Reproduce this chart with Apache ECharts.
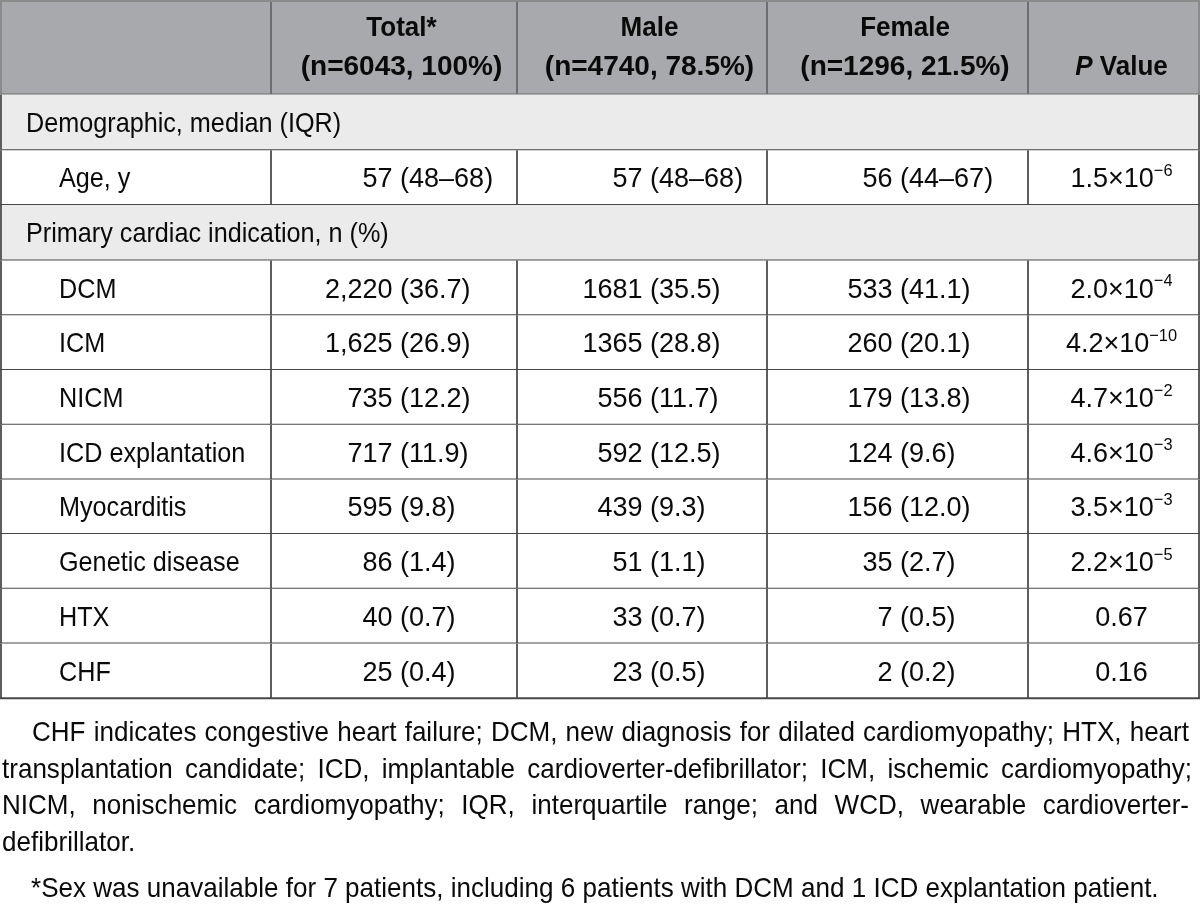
<!DOCTYPE html>
<html>
<head>
<meta charset="utf-8">
<script src="https://cdn.jsdelivr.net/npm/echarts@6/dist/echarts.min.js"></script>
<style>
html,body{margin:0;padding:0;background:#ffffff;}
#chart{width:1200px;height:916px;}
</style>
</head>
<body>
<div id="chart"></div>
<script>
// ---------------- DATA ----------------
const columnTitles = ['Total*', 'Male', 'Female'];
const columnN = [6043, 4740, 1296];
const columnPct = ['100', '78.5', '21.5'];
const pValueTitle = 'Value';
const groupLabels = ['Demographic, median (IQR)', 'Primary cardiac indication, n (%)'];

const ageLabel = 'Age, y';
const ageMedian = [57, 57, 56];
const ageQ1 = [48, 48, 44];
const ageQ3 = [68, 68, 67];
const agePMantissa = 1.5;
const agePExponent = -6;

const categories = ['DCM', 'ICM', 'NICM', 'ICD explantation', 'Myocarditis', 'Genetic disease', 'HTX', 'CHF'];
const totalN   = [2220, 1625, 735, 717, 595, 86, 40, 25];
const totalPct = [36.7, 26.9, 12.2, 11.9, 9.8, 1.4, 0.7, 0.4];
const maleN    = [1681, 1365, 556, 592, 439, 51, 33, 23];
const malePct  = [35.5, 28.8, 11.7, 12.5, 9.3, 1.1, 0.7, 0.5];
const femaleN  = [533, 260, 179, 124, 156, 35, 7, 2];
const femalePct= [41.1, 20.1, 13.8, 9.6, 12.0, 2.7, 0.5, 0.2];
const pMantissa = [2.0, 4.2, 4.7, 4.6, 3.5, 2.2, 0.67, 0.16];
const pExponent = [-4, -10, -2, -3, -3, -5, null, null];

const footnoteJustified = [
  'CHF indicates congestive heart failure; DCM, new diagnosis for dilated cardiomyopathy; HTX, heart',
  'transplantation candidate; ICD, implantable cardioverter-defibrillator; ICM, ischemic cardiomyopathy;',
  'NICM, nonischemic cardiomyopathy; IQR, interquartile range; and WCD, wearable cardioverter-'
];
const footnoteLast = 'defibrillator.';
const footnoteSex = '*Sex was unavailable for 7 patients, including 6 patients with DCM and 1 ICD explantation patient.';

// ---------------- LAYOUT / STYLE ----------------
const W = 1200, H = 916;
const FONT = '"Liberation Sans", Arial, Helvetica, sans-serif';
const FS = 28;
// horizontal condensing to imitate a condensed grotesque
const SX = { label: 0.9, num: 0.965, headTitle: 0.93, headN: 1.0, foot: 0.93 };
const COL_EDGES = [0, 271, 517, 767, 1028, 1200];
const PAREN_X = [400, 650, 900];
const HEAD_CX = [401.5, 649.5, 905, 1121.5];
const P_CX = 1121.5;
const LABEL_X = { group: 26, data: 59 };
const ROW_HEIGHT = { header: 94.5, group: 55.7, data: 54.7 };
const C = {
  headerBg: '#a7a9ac', groupBg: '#ebebeb', text: '#0a0a0a',
  hLine: '#474747', vLine: '#5e5e5e', headLine: '#6e6e70', border: '#8a8a8a'
};

// ---------------- BUILD ROWS ----------------
function fmtThousands(n) { return n.toLocaleString('en-US'); }
function fmtP(m, e) { return e == null ? { m: m.toFixed(2), e: null } : { m: m.toFixed(1), e: e }; }

const rows = [];
rows.push({ type: 'header' });
rows.push({ type: 'group', label: groupLabels[0] });
rows.push({
  type: 'data', label: ageLabel,
  cells: [0, 1, 2].map(i => [ageMedian[i] + ' ', '(' + ageQ1[i] + '\u2013' + ageQ3[i] + ')']),
  p: fmtP(agePMantissa, agePExponent)
});
rows.push({ type: 'group', label: groupLabels[1] });
categories.forEach((c, k) => {
  rows.push({
    type: 'data', label: c,
    cells: [
      [fmtThousands(totalN[k]) + ' ', '(' + totalPct[k].toFixed(1) + ')'],
      [maleN[k] + ' ', '(' + malePct[k].toFixed(1) + ')'],
      [femaleN[k] + ' ', '(' + femalePct[k].toFixed(1) + ')']
    ],
    p: fmtP(pMantissa[k], pExponent[k])
  });
});
const rowTop = [], rowH = [];
let acc = 0;
rows.forEach(r => { rowTop.push(acc); rowH.push(ROW_HEIGHT[r.type]); acc += ROW_HEIGHT[r.type]; });

// ---------------- RENDER ----------------
function txt(x, y, text, sx, opt) {
  return {
    type: 'text', x: x, y: y, scaleX: sx, silent: true,
    style: Object.assign({
      text: text, fill: C.text, fontSize: FS, fontFamily: FONT,
      align: 'left', verticalAlign: 'middle'
    }, opt || {})
  };
}
function line(p1, p2, color, w) {
  return { type: 'line', silent: true, shape: { x1: p1[0], y1: p1[1], x2: p2[0], y2: p2[1] },
           style: { stroke: color, lineWidth: w } };
}
const supRich = {
  m: { fontSize: FS, fontFamily: FONT, fill: C.text, lineHeight: 34 },
  s: { fontSize: 17, fontFamily: FONT, fill: C.text, lineHeight: 21, verticalAlign: 'top' }
};

function renderItem(params, api) {
  const i = params.dataIndex;
  const r = rows[i];
  const xL = api.value(0), yT = api.value(1), xR = api.value(2), yB = api.value(3);
  const tl = api.coord([xL, yT]), br = api.coord([xR, yB]);
  const cy = (tl[1] + br[1]) / 2;
  const ch = [];
  const rect = (fill) => ({ type: 'rect', silent: true, shape: { x: tl[0], y: tl[1], width: br[0] - tl[0], height: br[1] - tl[1] }, style: { fill: fill } });
  if (r.type === 'header') {
    ch.push(rect(C.headerBg));
    for (let k = 1; k < COL_EDGES.length - 1; k++) {
      const x = api.coord([COL_EDGES[k], yT])[0];
      ch.push(line([x, tl[1]], [x, br[1]], C.headLine, 2));
    }
    ch.push(line([tl[0], tl[1] + 1], [br[0], tl[1] + 1], C.border, 2));
    ch.push(line([tl[0], br[1]], [br[0], br[1]], C.headLine, 2));
    ch.push(line([tl[0] + 1, tl[1]], [tl[0] + 1, br[1]], C.border, 2));
    ch.push(line([br[0] - 1, tl[1]], [br[0] - 1, br[1]], C.border, 2));
    const y1 = tl[1] + 28, y2 = tl[1] + 67.5;
    for (let k = 0; k < 3; k++) {
      const cx = api.coord([HEAD_CX[k], yT])[0];
      ch.push(txt(cx, y1, columnTitles[k], SX.headTitle, { align: 'center', fontWeight: 'bold' }));
      ch.push(txt(cx, y2, '(n=' + columnN[k] + ', ' + columnPct[k] + '%)', SX.headN, { align: 'center', fontWeight: 'bold' }));
    }
    const pcx = api.coord([HEAD_CX[3], yT])[0];
    ch.push(txt(pcx, y2, '{i|P} {b|' + pValueTitle + '}', SX.headTitle, {
      align: 'center', fontWeight: 'bold',
      rich: {
        i: { fontSize: FS, fontFamily: FONT, fontWeight: 'bold', fontStyle: 'italic', fill: C.text },
        b: { fontSize: FS, fontFamily: FONT, fontWeight: 'bold', fill: C.text }
      }
    }));
  } else if (r.type === 'group') {
    ch.push(rect(C.groupBg));
    ch.push(line([tl[0], br[1]], [br[0], br[1]], C.hLine, 2));
    ch.push(line([tl[0] + 1, tl[1]], [tl[0] + 1, br[1]], C.vLine, 2));
    ch.push(line([br[0] - 1, tl[1]], [br[0] - 1, br[1]], C.vLine, 2));
    ch.push(txt(api.coord([LABEL_X.group, yT])[0], cy + 2, r.label, SX.label));
  } else {
    ch.push(rect('#ffffff'));
    for (let k = 1; k < COL_EDGES.length - 1; k++) {
      const x = api.coord([COL_EDGES[k], yT])[0];
      ch.push(line([x, tl[1]], [x, br[1]], C.vLine, 2));
    }
    ch.push(line([tl[0] + 1, tl[1]], [tl[0] + 1, br[1]], C.vLine, 2));
    ch.push(line([br[0] - 1, tl[1]], [br[0] - 1, br[1]], C.vLine, 2));
    ch.push(line([tl[0], br[1]], [br[0], br[1]], C.hLine, 2));
    ch.push(txt(api.coord([LABEL_X.data, yT])[0], cy + 2, r.label, SX.label));
    r.cells.forEach((cell, k) => {
      const ax = api.coord([PAREN_X[k], yT])[0];
      ch.push(txt(ax, cy + 2, cell[0], SX.num, { align: 'right' }));
      ch.push(txt(ax, cy + 2, cell[1], SX.num, { align: 'left' }));
    });
    const pcx = api.coord([P_CX, yT])[0];
    const ptext = r.p.e == null ? '{m|' + r.p.m + '}' : '{m|' + r.p.m + '\u00d710}{s|\u2212' + Math.abs(r.p.e) + '}';
    ch.push(txt(pcx, cy + 2, ptext, SX.num, { align: 'center', rich: supRich }));
  }
  return { type: 'group', children: ch };
}

// ---------------- FOOTNOTE ----------------
const measureCtx = document.createElement('canvas').getContext('2d');
measureCtx.font = FS + 'px ' + FONT;
function footText(x, y, text) {
  return { type: 'text', x: x, y: y, scaleX: SX.foot, silent: true,
    style: { text: text, fill: C.text, font: FS + 'px ' + FONT, align: 'left', verticalAlign: 'middle' } };
}
function justifiedLine(text, x0, x1, y) {
  const words = text.split(' ');
  const widths = words.map(w => measureCtx.measureText(w).width * SX.foot);
  const total = widths.reduce((a, b) => a + b, 0);
  const gap = (x1 - x0 - total) / (words.length - 1);
  const out = [];
  let x = x0;
  words.forEach((w, i) => { out.push(footText(x, y, w)); x += widths[i] + gap; });
  return out;
}
const FOOT_Y = [733, 770, 806.5, 843, 889];
const footEls = [];
footEls.push(...justifiedLine(footnoteJustified[0], 32, 1189, FOOT_Y[0]));
footEls.push(...justifiedLine(footnoteJustified[1], 2, 1192, FOOT_Y[1]));
footEls.push(...justifiedLine(footnoteJustified[2], 2, 1189, FOOT_Y[2]));
footEls.push(footText(2, FOOT_Y[3], footnoteLast));
footEls.push(footText(31, FOOT_Y[4], footnoteSex));

// ---------------- CHART ----------------
const chart = echarts.init(document.getElementById('chart'), null, { renderer: 'canvas' });
chart.setOption({
  animation: false,
  backgroundColor: '#ffffff',
  grid: { left: 0, right: 0, top: 0, bottom: 0 },
  xAxis: { type: 'value', min: 0, max: W, show: false },
  yAxis: { type: 'value', min: 0, max: H, inverse: true, show: false },
  series: [{
    type: 'custom',
    coordinateSystem: 'cartesian2d',
    renderItem: renderItem,
    clip: false,
    data: rows.map((r, i) => [COL_EDGES[0], rowTop[i], COL_EDGES[COL_EDGES.length - 1], rowTop[i] + rowH[i]]),
    encode: { x: [0, 2], y: [1, 3] },
    silent: true
  }],
  graphic: { elements: footEls }
});
</script>
</body>
</html>
